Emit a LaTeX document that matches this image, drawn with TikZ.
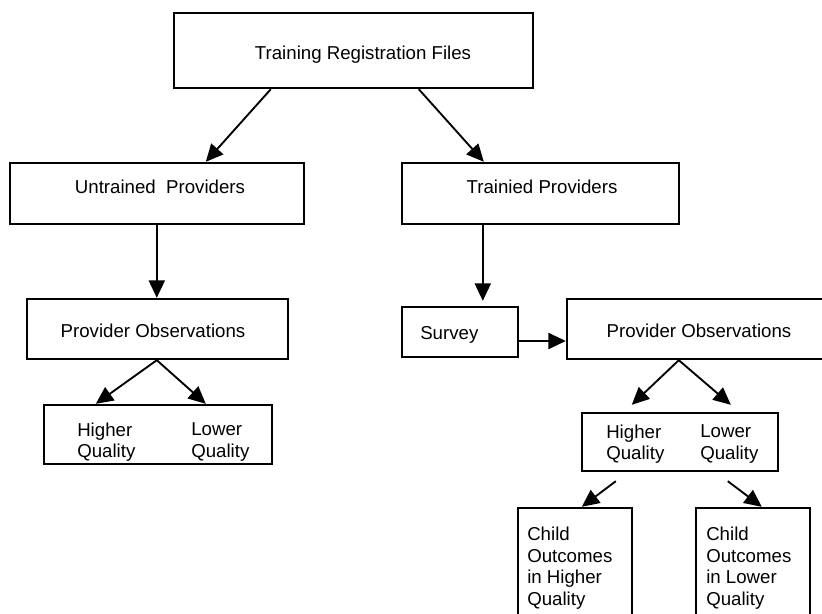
\documentclass[tikz,border=0pt]{standalone}
\usepackage{fontspec}
\setmainfont{Liberation Sans}
\usetikzlibrary{fit,arrows.meta}
\begin{document}
\begin{tikzpicture}[x=0.75pt,y=-0.75pt,
  box/.style={draw=black,line width=1.8pt,inner sep=0pt,fill=none},
  txt/.style={inner sep=0pt,font=\fontsize{14}{16.2}\selectfont,align=left},
  arr/.style={draw=black,line width=1.4pt,-{Triangle[length=13pt,width=12pt]}}]
\useasboundingbox (0,0) rectangle (822,614);
\clip (0,0) rectangle (822,614);
% boxes
\node[box,fit={(174,13) (533,88)}] (top) {};
\node[box,fit={(10,163) (304,224)}] (untrained) {};
\node[box,fit={(402,163) (679,224)}] (trained) {};
\node[box,fit={(27,299) (288,359)}] (poL) {};
\node[box,fit={(44,405) (272,464)}] (hqL) {};
\node[box,fit={(402,307) (518,357)}] (survey) {};
\node[box,fit={(567,299) (831,359)}] (poR) {};
\node[box,fit={(582,413) (778,471)}] (hqR) {};
\node[box,fit={(518,508) (632,650)}] (childL) {};
\node[box,fit={(696,508) (810,650)}] (childR) {};
% texts
\node[txt] (ttop) at (363,55) {Training Registration Files};
\node[txt] (tuntr) at (160,187) {Untrained\ \ Providers};
\node[txt] (ttr) at (542,187) {Trainied Providers};
\node[txt] (tpoL) at (153,331) {Provider Observations};
\node[txt] (tpoR) at (699,331) {Provider Observations};
\node[txt,anchor=west] (thL1) at (77,442) {Higher\\Quality};
\node[txt,anchor=west] (tlL1) at (191,442) {Lower\\Quality};
\node[txt,anchor=west] (thR1) at (606,444) {Higher\\Quality};
\node[txt,anchor=west] (tlR1) at (700,444) {Lower\\Quality};
\node[txt,anchor=west] (tsur) at (420,335) {Survey};
\node[txt,anchor=west] (tcL) at (527,568) {Child\\Outcomes\\in Higher\\Quality};
\node[txt,anchor=west] (tcR) at (706,568) {Child\\Outcomes\\in Lower\\Quality};
% connectors
\draw[arr] ([xshift=73.5pt]top.south west) -- ([xshift=147.75pt]untrained.north west);
\draw[arr] ([xshift=184.5pt]top.south west) -- ([xshift=62.25pt]trained.north west);
\draw[arr] ([xshift=111pt]untrained.south west) -- ([xshift=98.25pt]poL.north west);
\draw[arr] ([xshift=98.25pt]poL.south west) -- ([xshift=39.75pt]hqL.north west);
\draw[arr] ([xshift=98.25pt]poL.south west) -- ([xshift=122.25pt]hqL.north west);
\draw[arr,shorten >=3.75pt] ([xshift=61.5pt]trained.south west) -- ([xshift=61.5pt]survey.north west);
\draw[arr] ([yshift=-6.75pt]survey.east) -- ([yshift=-6.75pt]survey.east -| poR.west);
\draw[arr] ([xshift=84.75pt]poR.south west) -- ([xshift=38.25pt,yshift=5.25pt]hqR.north west);
\draw[arr] ([xshift=84.75pt]poR.south west) -- ([xshift=112.5pt,yshift=5.25pt]hqR.north west);
\draw[arr] ([xshift=26.25pt,yshift=-6.75pt]hqR.south west) -- ([xshift=48.75pt]childL.north west);
\draw[arr] ([xshift=110.25pt,yshift=-6.75pt]hqR.south west) -- ([xshift=50.25pt]childR.north west);
\end{tikzpicture}
\end{document}
